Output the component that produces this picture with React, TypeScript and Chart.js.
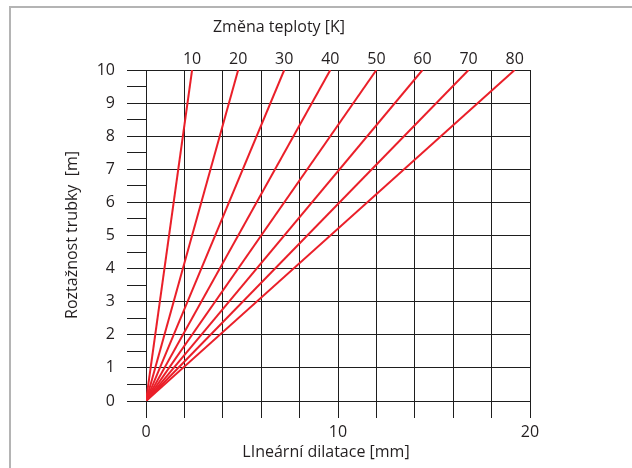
import React, { useEffect, useRef } from "react";
import { Chart, registerables } from "chart.js";

Chart.register(...registerables);

// Temperature change (K) for each line
const tempChanges = [10, 20, 30, 40, 50, 60, 70, 80];
// Linear dilation (mm) reached at the top of the chart (10 m pipe length)
const dilationAtTop = [2.4, 4.8, 7.2, 9.6, 12.0, 14.4, 16.8, 19.2];
// Pipe length range (m)
const pipeLengths = [0, 10];

const xTitle = "LIneární dilatace [mm]";
const yTitle = "Roztažnost trubky  [m]";
const topTitle = "Změna teploty [K]";

const FONT = "'Open Sans', 'DejaVu Sans', sans-serif";
const TEXT = "#231f20";
const GRID = "#1e1e1e";
const RED = "#ea1f29";

export default function App() {
  const ref = useRef<HTMLCanvasElement | null>(null);

  useEffect(() => {
    if (!ref.current) return;
    const decor = {
      id: "decor",
      beforeDraw(chart: any) {
        const c = chart.ctx;
        c.save();
        c.fillStyle = "#ffffff";
        c.fillRect(0, 0, chart.width, chart.height);
        c.strokeStyle = "#b4b4b4";
        c.lineWidth = 2;
        c.beginPath();
        c.moveTo(10, 468);
        c.lineTo(10, 7);
        c.lineTo(632, 7);
        c.stroke();
        c.restore();
      },
      afterDraw(chart: any) {
        const c = chart.ctx;
        c.save();
        c.fillStyle = TEXT;
        c.font = `16px ${FONT}`;
        c.textAlign = "center";
        c.textBaseline = "middle";
        c.fillText(topTitle, 279, 27);
        c.fillText(xTitle, 326, 452);
        c.translate(72, 235);
        c.rotate(-Math.PI / 2);
        c.fillText(yTitle, 0, 0);
        c.restore();
      },
    };

    const chart = new Chart(ref.current, {
      type: "line",
      data: {
        datasets: tempChanges.map((t, i) => ({
          label: `${t} K`,
          data: [
            { x: 0, y: pipeLengths[0] },
            { x: dilationAtTop[i], y: pipeLengths[1] },
          ],
          borderColor: RED,
          borderWidth: 2,
          pointRadius: 0,
          xAxisID: "x",
          yAxisID: "y",
        })),
      },
      options: {
        animation: false,
        responsive: false,
        layout: { padding: { left: 0, right: 102, top: 0, bottom: 0 } },
        plugins: { legend: { display: false }, tooltip: { enabled: false } },
        scales: {
          x: {
            type: "linear",
            position: "bottom",
            min: 0,
            max: 20,
            afterFit(s: any) {
              s.height = 67;
            },
            ticks: {
              stepSize: 2,
              autoSkip: false,
              maxRotation: 0,
              padding: 5,
              color: TEXT,
              font: { family: FONT, size: 16 },
              callback: (v: any) => (Number(v) % 10 === 0 ? String(v) : ""),
            },
            grid: { color: GRID, tickColor: GRID, tickLength: 17, lineWidth: 1 },
            border: { display: true, color: GRID },
          },
          x2: {
            type: "linear",
            axis: "x",
            position: "top",
            min: 0,
            max: 20,
            afterFit(s: any) {
              s.height = 70;
            },
            afterBuildTicks(s: any) {
              s.ticks = dilationAtTop.map((v) => ({ value: v }));
            },
            ticks: {
              autoSkip: false,
              maxRotation: 0,
              padding: 1,
              color: TEXT,
              font: { family: FONT, size: 16 },
              callback: (_v: any, i: number) => String(tempChanges[i]),
            },
            grid: { display: false, drawTicks: false },
            border: { display: false },
          },
          y: {
            type: "linear",
            position: "left",
            min: 0,
            max: 10,
            afterFit(s: any) {
              s.width = 146;
            },
            ticks: {
              stepSize: 0.5,
              autoSkip: false,
              padding: 12,
              color: TEXT,
              font: { family: FONT, size: 16 },
              callback: (v: any) => (Number.isInteger(Number(v)) ? String(v) : ""),
            },
            grid: {
              color: (ctx: any) =>
                ctx.tick && Number.isInteger(ctx.tick.value) ? GRID : "rgba(0,0,0,0)",
              tickColor: GRID,
              tickLength: 19,
              lineWidth: 1,
            },
            border: { display: true, color: GRID },
          },
        },
      },
      plugins: [decor],
    });
    return () => chart.destroy();
  }, []);

  return (
    <canvas
      ref={ref}
      width={632}
      height={468}
      style={{ position: "fixed", left: 0, top: 0, width: 632, height: 468 }}
    />
  );
}
